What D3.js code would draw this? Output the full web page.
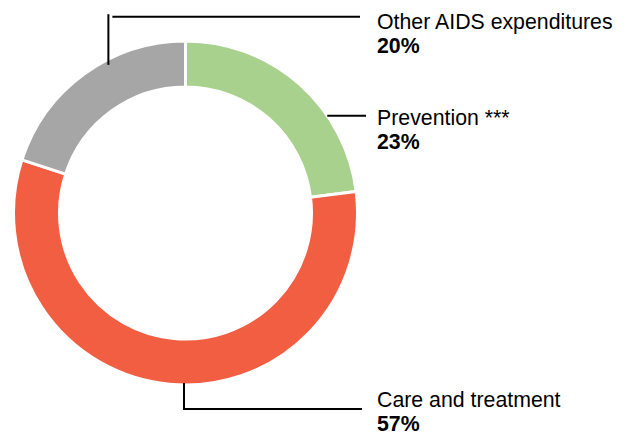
<!DOCTYPE html>
<html>
<head>
<meta charset="utf-8">
<script src="https://cdn.jsdelivr.net/npm/d3@7"></script>
<style>
  body { margin: 0; background: #fff; }
  text { font-family: "Liberation Sans", Arial, sans-serif; fill: #000; }
</style>
</head>
<body>
<div id="chart"></div>
<script>
// data
const categories = ["Prevention ***", "Care and treatment", "Other AIDS expenditures"];
const values = [23, 57, 20];
const colors = ["#a9d18e", "#f15e42", "#a6a6a6"];

const width = 630, height = 432;
const cx = 185.5, cy = 213;
const outerR = 172, innerR = 126;

// where each leader leaves the ring (angle in degrees from top, radius) and where its label sits
const leaders = [
  { ang: 55.5, r: 172, kind: "flat", lineY: 115.7, x2: 366, textY: 125 },
  { ang: 180, r: 170, kind: "down", lineY: 409, x2: 362, textY: 407 },
  { ang: 332.5, r: 167, kind: "up", lineY: 16.7, x2: 360, textY: 29 }
];

const svg = d3.select("#chart").append("svg")
  .attr("width", width)
  .attr("height", height);

const g = svg.append("g").attr("transform", "translate(" + cx + "," + cy + ")");

const pie = d3.pie().sort(null).value(d => d.value);
const arc = d3.arc().innerRadius(innerR).outerRadius(outerR);

const data = categories.map((c, i) => ({ name: c, value: values[i], color: colors[i] }));

g.selectAll("path.slice")
  .data(pie(data))
  .enter().append("path")
  .attr("class", "slice")
  .attr("d", arc)
  .attr("fill", d => d.data.color)
  .attr("stroke", "#fff")
  .attr("stroke-width", 3);

// leader lines
function pt(ang, r) {
  const a = ang * Math.PI / 180;
  return [cx + r * Math.sin(a), cy - r * Math.cos(a)];
}

leaders.forEach((l, i) => {
  const p = pt(l.ang, l.r);
  if (l.kind === "flat") {
    svg.append("line")
      .attr("x1", p[0]).attr("y1", l.lineY)
      .attr("x2", l.x2).attr("y2", l.lineY)
      .attr("stroke", "#000").attr("stroke-width", 2);
  } else if (l.kind === "down") {
    svg.append("path")
      .attr("d", "M" + (p[0] - 1.5) + "," + p[1] + "V" + l.lineY + "H" + l.x2)
      .attr("fill", "none").attr("stroke", "#000").attr("stroke-width", 2);
  } else {
    // vertical part and horizontal part, with a tiny gap between them
    svg.append("line")
      .attr("x1", p[0]).attr("y1", p[1])
      .attr("x2", p[0]).attr("y2", l.lineY - 2.5)
      .attr("stroke", "#000").attr("stroke-width", 2);
    svg.append("line")
      .attr("x1", p[0] + 4).attr("y1", l.lineY)
      .attr("x2", l.x2).attr("y2", l.lineY)
      .attr("stroke", "#000").attr("stroke-width", 2);
  }

  const t = svg.append("text")
    .attr("x", 377)
    .attr("y", l.textY)
    .style("font-size", "21.3px");
  t.append("tspan").text(categories[i]);
  t.append("tspan")
    .attr("x", 377)
    .attr("dy", 24)
    .style("font-weight", "bold")
    .text(values[i] + "%");
});
</script>
</body>
</html>
